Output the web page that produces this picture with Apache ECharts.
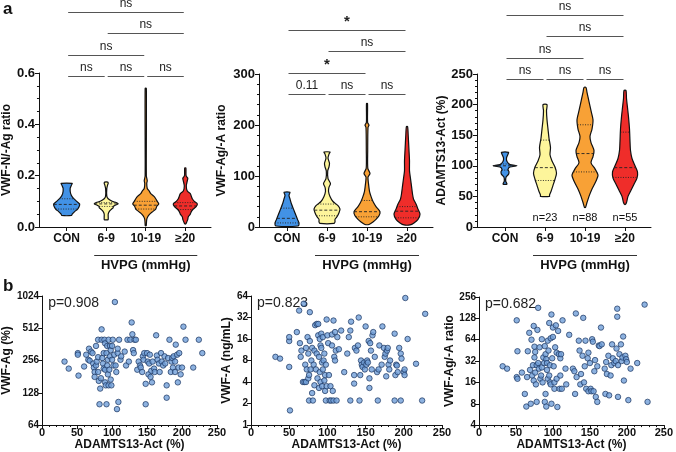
<!DOCTYPE html>
<html><head><meta charset="utf-8">
<script src="https://cdn.jsdelivr.net/npm/echarts@6/dist/echarts.min.js"></script>
<style>html,body{margin:0;padding:0;background:#fff}#c{width:676px;height:452px}</style>
</head><body><div id="c"></div>
<script>
// ---------- DATA ----------
const groups = ['CON', '6-9', '10-19', '≥20'];
const groupPos = [0.7, 1.7, 2.7, 3.7];
const xAxisTitleA = 'HVPG (mmHg)';

// violin profiles: [value, relative density]
const a1Profiles = [
  [[0.17,5.5],[0.165,5],[0.15,3.5],[0.13,4],[0.115,6],[0.10,10],[0.09,13],[0.08,12.5],[0.07,11],[0.06,8],[0.05,5.5],[0.045,5]],
  [[0.175,1.5],[0.17,2],[0.165,1.5],[0.15,0.6],[0.12,0.6],[0.11,2],[0.10,6],[0.095,10],[0.09,12],[0.085,9],[0.08,7],[0.075,7],[0.07,5.5],[0.06,3],[0.05,2],[0.04,2],[0.03,2],[0.028,1.5]],
  [[0.54,0.6],[0.2,0.6],[0.18,1.5],[0.17,1],[0.15,1.5],[0.14,3.5],[0.13,5],[0.12,8],[0.11,10],[0.10,11.5],[0.09,13],[0.08,11],[0.07,10],[0.06,7],[0.05,4],[0.04,2],[0.03,1],[0.01,0.6],[0.005,0.5]],
  [[0.23,0.6],[0.2,0.8],[0.19,2.5],[0.18,2],[0.16,1],[0.14,2],[0.13,5],[0.12,6],[0.11,7],[0.10,9],[0.09,12],[0.08,11],[0.07,8],[0.06,6],[0.05,5],[0.04,3],[0.03,2.5],[0.02,1.5],[0.012,0.5]]
];
const a1Quartiles = [[0.07,0.088,0.11],[0.08,0.09,0.095],[0.07,0.085,0.10],[0.068,0.082,0.095]];

const a2Profiles = [
  [[68,3],[62,2],[55,3],[45,4.5],[35,6.5],[25,8.5],[15,10.5],[8,12],[2,11]],
  [[147,3],[143,2],[135,1],[125,2.5],[118,2],[110,0.7],[95,1],[85,3.5],[78,2],[70,1.5],[60,3],[50,6],[42,11],[35,13],[28,12],[20,10],[15,8],[10,8],[7,7]],
  [[242,0.5],[205,0.6],[200,2],[195,1],[150,0.7],[115,0.8],[105,3],[98,1],[85,1.5],[70,2.5],[60,4],[50,6],[40,9],[30,13],[22,12],[15,9],[10,6],[5,2]],
  [[197,0.6],[180,1.2],[150,2],[130,2.5],[110,2.5],[95,3.5],[80,4.5],[65,5.5],[55,6.5],[45,9],[35,11],[25,13],[15,11],[8,7],[4,3]]
];
const a2Quartiles = [[8,17,37],[22,33,45],[20,30,52],[18,31,40]];

const a3Profiles = [
  [[122,3.5],[119,3],[113,1.5],[107,2],[102,5],[100,12],[98,5],[94,3],[90,4],[86,3.5],[82,1.2],[75,0.7],[70,2]],
  [[200,2],[190,1.5],[175,2],[160,3],[145,4],[130,5.5],[118,5],[108,7],[98,10],[88,11.5],[78,10],[68,8],[58,6],[52,4.5],[50,4.5]],
  [[228,1],[220,2],[205,4],[190,6],[175,8],[160,7],[148,5],[138,6],[125,9],[115,8],[105,6],[95,10],[85,13],[75,11],[62,7],[50,4],[40,2],[32,0.5]],
  [[223,1],[210,1.5],[195,2.5],[180,3.5],[160,4.5],[140,5],[125,5.5],[112,7],[100,10],[90,12.5],[80,12],[70,9],[60,6],[50,3],[40,1.5],[37,0.5]]
];
const a3Quartiles = [[93,100,103],[76,97,142],[90,120,167],[81,97,155]];
const a3NLabels = ['', 'n=23', 'n=88', 'n=55'];

// significance brackets: [fromGroup, toGroup, label, level]
const a1Sig = [[0,1,'ns',0],[1,2,'ns',0],[2,3,'ns',0],[0,2,'ns',1],[1,3,'ns',2],[0,3,'ns',3]];
const a2Sig = [[0,1,'0.11',0],[1,2,'ns',0],[2,3,'ns',0],[0,2,'*',1],[1,3,'ns',2],[0,3,'*',3]];
const a3Sig = [[0,1,'ns',0],[1,2,'ns',0],[2,3,'ns',0],[0,2,'ns',1],[1,3,'ns',2],[0,3,'ns',3]];

const pValues = ['p=0.908', 'p=0.823', 'p=0.682'];

const b1Points = [[32,250],[38,215],[52,185],[51,300],[51,290],[60,225],[63,290],[66,260],[67,330],[68,255],[70,310],[72,300],[73,240],[74,220],[75,200],[75,180],[77,350],[77,230],[78,250],[80,400],[80,275],[80,200],[81,165],[82,100],[83,140],[84,175],[85,500],[85,400],[86,270],[87,240],[88,215],[88,300],[89,400],[90,160],[90,210],[90,370],[91,150],[92,100],[92,300],[93,230],[93,350],[94,190],[94,260],[95,400],[95,150],[96,210],[97,350],[97,280],[98,320],[98,170],[99,150],[100,260],[100,350],[101,400],[102,230],[103,290],[104,900],[105,230],[106,200],[107,90],[108,300],[108,330],[109,105],[110,400],[112,260],[113,280],[118,310],[120,230],[122,400],[124,250],[126,400],[128,580],[129,450],[130,320],[131,300],[132,400],[134,400],[136,210],[138,250],[140,230],[141,220],[143,200],[144,280],[145,260],[146,300],[148,100],[148,155],[150,300],[151,250],[152,190],[153,240],[154,290],[155,180],[156,205],[157,160],[158,250],[160,215],[161,200],[163,440],[164,285],[165,260],[167,240],[168,200],[170,300],[171,250],[173,230],[175,280],[176,240],[178,150],[178,115],[180,270],[182,400],[184,200],[185,250],[186,270],[187,220],[188,280],[190,250],[190,200],[191,360],[193,290],[194,160],[195,220],[196,300],[198,190],[200,220],[202,530],[205,400],[216,220],[224,400],[229,300]];

const b2Points = [[32,9],[38,8.5],[50,15],[50,17],[50,6.5],[51,1.6],[60,20],[63,40],[64,14],[65,9],[66,11],[68,4],[69,50],[70,4],[71,7],[72,12],[72,4],[73,6],[74,17],[75,10],[75,4.5],[76,5],[76,2.2],[77,38],[77,15],[78,6],[79,8],[80,2.8],[80,12],[81,2.2],[82,7],[83,11],[83,3.6],[84,25],[85,6],[86,26],[86,10],[87,4.5],[88,26],[88,18],[89,9],[89,3.3],[90,16],[90,5.5],[91,13],[91,4],[92,19],[92,12],[93,7.5],[93,3.5],[94,17],[94,6],[95,8],[96,10],[96,4.2],[97,5],[97,3],[98,2.2],[98,7],[99,30],[99,3.5],[100,18],[101,14],[102,5],[103,2.2],[104,3.5],[105,2.2],[106,13],[106,18.5],[107,3],[108,2.2],[108,29],[109,9],[110,8],[110,20],[111,11],[112,2.2],[113,17],[115,11.5],[118,21],[122,5.5],[126,10],[128,17],[130,2.2],[130,21],[131,28],[135,3.8],[135,5],[136,12],[138,11],[140,13],[141,32],[142,2.2],[143,5],[144,8],[145,7],[146,6.5],[148,7.5],[149,6],[150,24],[151,7],[152,8],[153,7.5],[154,15],[155,4.5],[155,3.3],[156,14],[157,11],[158,6],[159,18],[160,20],[162,9],[165,5.5],[166,2.2],[167,6],[168,13],[171,7],[172,24],[174,12],[175,9],[176,10],[177,4.8],[178,11],[179,12],[180,7],[181,6],[182,8],[188,19],[188,2.2],[189,5],[190,7],[191,6.8],[192,5.5],[194,12],[196,2.2],[196,10],[197,8.5],[200,5.5],[201,6],[201,5],[202,60],[205,16],[216,7.2],[224,2.2],[228,36]];

const b3Points = [[32,27],[38,25],[51,120],[51,19],[52,18],[52,44],[58,22],[62,11],[64,7.3],[65,19],[66,44],[68,80],[69,24],[70,8],[71,64],[72,20],[73,28],[74,100],[74,17],[75,36],[75,51],[76,43],[76,22],[77,15],[78,8.5],[78,28],[79,88],[80,180],[80,30],[81,25],[82,50],[83,18],[84,20],[85,26],[85,65],[86,16],[87,36],[88,30],[89,52],[89,8.5],[90,11],[90,40],[91,34],[91,7.3],[92,24],[92,30],[93,18],[93,62],[94,45],[95,110],[95,20],[96,28],[96,16],[97,15],[97,67],[98,145],[98,8],[99,35],[100,70],[100,95],[101,27],[102,13],[102,16],[103,50],[104,102],[105,42],[105,18],[106,7.2],[107,85],[108,40],[109,13],[110,35],[110,20],[111,40],[112,13],[113,120],[117,25],[118,15],[122,75],[127,25],[129,23],[130,11],[131,150],[132,19],[135,62],[136,45],[137,15],[138,21],[140,38],[141,130],[142,16],[143,27],[144,62],[145,13],[147,35],[148,42],[148,12],[150,30],[151,13],[152,12],[153,65],[154,60],[155,12],[156,23],[157,33],[158,10],[160,8.5],[160,27],[162,53],[163,52],[165,95],[166,55],[170,25],[171,11],[172,31],[173,21],[175,38],[176,10.5],[178,20],[179,28],[180,55],[181,35],[183,30],[185,32],[186,48],[187,175],[187,135],[188,28],[188,10],[190,40],[192,55],[193,32],[194,36],[195,71],[196,17],[198,38],[199,34],[200,31],[202,9],[205,25],[214,30],[224,200],[228,8.5]];

// ---------- STYLE ----------
const FONT = 'Arial, "Liberation Sans", Helvetica, sans-serif';
const violinColors = ['#4292e6', '#fdf59b', '#f8a136', '#ef2d2a'];
const K = 1.0; // px per density unit

const chart = echarts.init(document.getElementById('c'), null, {renderer: 'canvas'});

function interp(prof, q) {
  for (let i = 0; i < prof.length - 1; i++) {
    const [v1, w1] = prof[i], [v2, w2] = prof[i + 1];
    if (q <= v1 && q >= v2) return w1 + (w2 - w1) * (v1 - q) / (v1 - v2);
  }
  return 0;
}

function violinRender(profiles, quarts) {
  return function (params, api) {
    const i = api.value(2);
    const prof = profiles[i];
    const cx = api.coord([api.value(0), prof[0][0]])[0];
    const right = prof.map(([v, w]) => [cx + w * K, api.coord([api.value(0), v])[1]]);
    const left = prof.slice().reverse().map(([v, w]) => [cx - w * K, api.coord([api.value(0), v])[1]]);
    const children = [{
      type: 'polygon', shape: {points: right.concat(left), smooth: 0.25},
      style: {fill: violinColors[i], stroke: '#111', lineWidth: 1.2}
    }];
    quarts[i].forEach((q, k) => {
      const w = interp(prof, q) * K;
      const y = api.coord([api.value(0), q])[1];
      children.push({type: 'line', shape: {x1: cx - w, y1: y, x2: cx + w, y2: y},
        style: {stroke: '#222', lineWidth: 0.9, lineDash: k === 1 ? [3, 2] : [1, 1.5]}});
    });
    return {type: 'group', children};
  };
}

const axisCommon = {
  axisLine: {show: true, lineStyle: {color: '#111', width: 1}},
  axisTick: {show: true, length: 4, lineStyle: {color: '#111'}},
  splitLine: {show: false},
};

function catXAxis(gi) {
  return Object.assign({}, axisCommon, {
    gridIndex: gi, type: 'value', min: 0, max: 4.35,
    axisTick: {show: true, length: 4, customValues: groupPos, lineStyle: {color: '#111'}},
    axisLabel: {customValues: groupPos, margin: 6, fontFamily: FONT, fontWeight: 'bold', fontSize: 12, color: '#111',
      formatter: v => groups[Math.round(v - 0.7)]}
  });
}
function valYAxis(gi, min, max, interval, name, gap, fmt) {
  return Object.assign({}, axisCommon, {
    gridIndex: gi, type: 'value', min, max, interval,
    name, nameLocation: 'middle', nameGap: gap,
    nameTextStyle: {fontFamily: FONT, fontWeight: 'bold', fontSize: 12, color: '#111'},
    minorTick: {show: true, splitNumber: interval === 0.2 ? 4 : 5, length: 2, lineStyle: {color: '#111'}},
    axisLabel: {margin: 4, fontFamily: FONT, fontWeight: 'bold', fontSize: 13, color: '#111', formatter: fmt}
  });
}
function scatXAxis(gi) {
  return Object.assign({}, axisCommon, {
    gridIndex: gi, type: 'value', min: 0, max: 250, interval: 50,
    name: 'ADAMTS13-Act (%)', nameLocation: 'middle', nameGap: 10,
    nameTextStyle: {fontFamily: FONT, fontWeight: 'bold', fontSize: 12, color: '#111'},
    minorTick: {show: true, splitNumber: 5, length: 2, lineStyle: {color: '#111'}},
    axisLabel: {margin: 2, fontFamily: FONT, fontWeight: 'bold', fontSize: 11, color: '#111'}
  });
}
function logYAxis(gi, min, max, name, gap) {
  return Object.assign({}, axisCommon, {
    gridIndex: gi, type: 'log', logBase: 2, min, max,
    name, nameLocation: 'middle', nameGap: gap,
    nameTextStyle: {fontFamily: FONT, fontWeight: 'bold', fontSize: 12, color: '#111'},
    axisLabel: {margin: 3, fontFamily: FONT, fontWeight: 'bold', fontSize: 10, color: '#111',
      formatter: v => String(Math.round(v))}
  });
}

const scatterStyle = {color: '#719fd8', borderColor: '#1b3560', borderWidth: 0.9};

const option = {
  animation: false,
  backgroundColor: '#fff',
  grid: [
    {left: 37, top: 73, width: 174, height: 154},
    {left: 259, top: 74, width: 174, height: 153},
    {left: 477, top: 74, width: 174, height: 153},
    {left: 36, top: 296, width: 181, height: 129},
    {left: 251, top: 296, width: 191, height: 129},
    {left: 479, top: 297, width: 190, height: 129}
  ],
  xAxis: [catXAxis(0), catXAxis(1), catXAxis(2), scatXAxis(3), scatXAxis(4), scatXAxis(5)],
  yAxis: [
    valYAxis(0, 0, 0.6, 0.2, 'VWF-N/-Ag ratio', 25, v => v.toFixed(1)),
    valYAxis(1, 0, 300, 100, 'VWF-Ag/-A ratio', 31),
    valYAxis(2, 0, 250, 50, 'ADAMTS13-Act (%)', 29),
    logYAxis(3, 64, 1024, 'VWF-Ag (%)', 26),
    logYAxis(4, 1, 64, 'VWF-A (ng/mL)', 13),
    logYAxis(5, 4, 256, 'VWF-Ag/-A ratio', 21)
  ],
  series: [
    {type: 'custom', xAxisIndex: 0, yAxisIndex: 0, renderItem: violinRender(a1Profiles, a1Quartiles),
      data: groupPos.map((p, i) => [p, 0, i]), encode: {x: 0, y: 1}, clip: false},
    {type: 'custom', xAxisIndex: 1, yAxisIndex: 1, renderItem: violinRender(a2Profiles, a2Quartiles),
      data: groupPos.map((p, i) => [p, 0, i]), encode: {x: 0, y: 1}, clip: false},
    {type: 'custom', xAxisIndex: 2, yAxisIndex: 2, renderItem: violinRender(a3Profiles, a3Quartiles),
      data: groupPos.map((p, i) => [p, 0, i]), encode: {x: 0, y: 1}, clip: false},
    {type: 'scatter', xAxisIndex: 3, yAxisIndex: 3, data: b1Points, symbolSize: 5.5, itemStyle: scatterStyle},
    {type: 'scatter', xAxisIndex: 4, yAxisIndex: 4, data: b2Points, symbolSize: 5.5, itemStyle: scatterStyle},
    {type: 'scatter', xAxisIndex: 5, yAxisIndex: 5, data: b3Points, symbolSize: 5.5, itemStyle: scatterStyle}
  ]
};
chart.setOption(option);

// ---------- annotations ----------
const gfx = [];
gfx.push({type: 'text', x: 3, y: 1, style: {text: 'a', font: 'bold 17px ' + FONT, fill: '#111'}});
gfx.push({type: 'text', x: 3, y: 278, style: {text: 'b', font: 'bold 17px ' + FONT, fill: '#111'}});

[[0, a1Sig, 76], [1, a2Sig, 94], [2, a3Sig, 79]].forEach(([ax, sig, base]) => {
  sig.forEach(([from, to, label, level]) => {
    const x1 = chart.convertToPixel({xAxisIndex: ax}, groupPos[from]) + 1.5;
    const x2 = chart.convertToPixel({xAxisIndex: ax}, groupPos[to]) - 1.5;
    const y = Math.round(base - level * 21.5) + 0.5;
    gfx.push({type: 'line', shape: {x1, y1: y, x2, y2: y}, style: {stroke: '#555', lineWidth: 1}});
    const star = label === '*';
    gfx.push({type: 'text', x: (x1 + x2) / 2, y: star ? y - 1 : y - 3,
      style: {text: label, align: 'center', verticalAlign: 'bottom',
        font: (star ? 'bold 15px ' : '12px ') + FONT, fill: '#222'}});
  });
  // HVPG bracket
  const hx1 = chart.convertToPixel({xAxisIndex: ax}, groupPos[1]) - 12;
  const hx2 = chart.convertToPixel({xAxisIndex: ax}, groupPos[3]) + 12;
  gfx.push({type: 'line', shape: {x1: hx1, y1: 255.5, x2: hx2, y2: 255.5}, style: {stroke: '#333', lineWidth: 1}});
  gfx.push({type: 'text', x: (hx1 + hx2) / 2, y: 259, style: {text: xAxisTitleA, align: 'center', verticalAlign: 'top',
    font: 'bold 13px ' + FONT, fill: '#111'}});
});
a3NLabels.forEach((t, i) => {
  if (!t) return;
  const p = chart.convertToPixel({xAxisIndex: 2, yAxisIndex: 2}, [groupPos[i], 0]);
  gfx.push({type: 'text', x: p[0], y: 218, style: {text: t, align: 'center', verticalAlign: 'middle', font: '11px ' + FONT, fill: '#111'}});
});
[3, 4, 5].forEach((gi, k) => {
  const p = chart.convertToPixel({xAxisIndex: gi, yAxisIndex: gi}, [0, gi === 3 ? 1024 : (gi === 4 ? 64 : 256)]);
  gfx.push({type: 'text', x: p[0] + 6, y: p[1] + 0, style: {text: pValues[k], align: 'left', verticalAlign: 'top', font: '14px ' + FONT, fill: '#222'}});
});
chart.setOption({graphic: gfx});
</script>
</body></html>
